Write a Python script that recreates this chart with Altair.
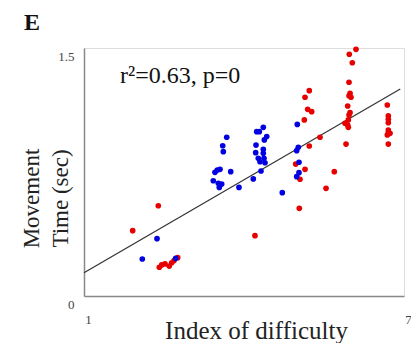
import altair as alt
import pandas as pd

# Red group (index of difficulty, movement time)
red_x = [2.393, 1.913, 2.412, 2.457, 2.519, 2.599, 2.644, 2.688, 2.757, 4.206,
         6.100, 5.974, 6.031, 5.969, 5.988, 5.969, 6.006, 5.944, 5.988, 5.969,
         5.956, 5.894, 5.944, 5.956, 5.913, 5.224, 5.144, 5.194, 5.269, 5.131,
         5.425, 5.224, 6.687, 6.706, 6.706, 6.706, 6.706, 6.706, 6.687, 6.738,
         6.706, 4.969, 5.144, 5.050, 5.693, 5.538, 5.037]
red_y = [0.546, 0.395, 0.174, 0.188, 0.194, 0.181, 0.201, 0.214, 0.232, 0.365,
         1.492, 1.462, 1.411, 1.293, 1.226, 1.211, 1.202, 1.149, 1.109, 1.095,
         1.065, 1.045, 1.034, 1.020, 0.919, 1.242, 1.202, 1.129, 1.115, 1.065,
         0.960, 0.907, 1.155, 1.089, 1.069, 1.048, 1.004, 0.988, 0.974, 0.984,
         0.919, 0.798, 0.766, 0.706, 0.752, 0.651, 0.530]

# Blue group
blue_x = [2.369, 2.093, 2.719, 3.676, 3.601, 3.612, 3.499, 3.550, 3.456, 3.751,
          3.424, 3.518, 3.582, 3.537, 3.906, 4.174, 4.319, 4.362, 4.238, 4.287,
          4.426, 4.381, 4.225, 4.362, 4.219, 4.362, 4.268, 4.375, 4.300, 4.394,
          4.718, 4.999, 5.018, 4.988, 5.031, 5.031, 4.988]
blue_y = [0.347, 0.224, 0.228, 0.960, 0.909, 0.873, 0.762, 0.766, 0.748, 0.752,
          0.697, 0.682, 0.677, 0.657, 0.657, 0.708, 0.756, 1.020, 0.994, 0.994,
          0.964, 0.944, 0.913, 0.887, 0.867, 0.863, 0.833, 0.833, 0.812, 0.806,
          0.625, 1.038, 0.899, 0.879, 0.809, 0.746, 0.722]

# Regression line end points
fit_x = [1.0, 6.93]
fit_y = [0.141, 1.252]

x_ticks = [1, 7]
y_ticks = [0, 1.5]

pts = pd.DataFrame({
    "id": red_x + blue_x,
    "mt": red_y + blue_y,
    "group": ["red"] * len(red_x) + ["blue"] * len(blue_x),
})
fit = pd.DataFrame({"id": fit_x, "mt": fit_y})

FONT = "Liberation Serif"

xs = alt.Scale(domain=[1, 7], nice=False, zero=False)
ys = alt.Scale(domain=[0, 1.5], nice=False, zero=False)

x_axis = alt.Axis(
    values=x_ticks, format="~g", title="Index of difficulty", grid=False, ticks=False,
    domainColor="#888888", domainWidth=1.5,
    labelFont=FONT, labelFontSize=13, labelColor="#444444",
    labelPadding=17, labelOffset=4, labelFlush=False, labelOverlap=False,
    titleFont=FONT, titleFontSize=25, titleFontWeight="normal", titleColor="#222222",
    titleX=172, titleY=42, titleBaseline="alphabetic",
)
y_axis = alt.Axis(
    values=y_ticks, format="~g", title=["Movement", "Time (sec)"], grid=False, ticks=False,
    domainColor="#888888", domainWidth=1.5,
    labelFont=FONT, labelFontSize=13, labelColor="#444444",
    labelPadding=10, labelOffset=8, labelFlush=False, labelOverlap=False,
    titleFont=FONT, titleFontSize=23, titleFontWeight="normal", titleColor="#222222",
    titleX=-46, titleY=150, titleBaseline="alphabetic", titleLineHeight=29,
    titleAngle=270,
)

points = alt.Chart(pts).mark_circle(size=32, opacity=1).encode(
    x=alt.X("id:Q", scale=xs, axis=x_axis),
    y=alt.Y("mt:Q", scale=ys, axis=y_axis),
    color=alt.Color("group:N", scale=alt.Scale(domain=["red", "blue"],
                                               range=["#e60000", "#0000e0"]),
                    legend=None),
)

line = alt.Chart(fit).mark_line(color="#333333", strokeWidth=1.2).encode(
    x=alt.X("id:Q", scale=xs),
    y=alt.Y("mt:Q", scale=ys),
)

notes = pd.DataFrame({"t": ["r\u00b2=0.63, p=0"]})
stat = alt.Chart(notes).mark_text(
    font=FONT, fontSize=24, align="left", baseline="alphabetic", color="#111111"
).encode(text="t:N", x=alt.value(36), y=alt.value(35))

panel = pd.DataFrame({"t": ["E"]})
letter = alt.Chart(panel).mark_text(
    font=FONT, fontSize=24, fontWeight="bold", align="center", baseline="middle",
    color="#111111"
).encode(text="t:N", x=alt.value(-52), y=alt.value(-25))

chart = alt.layer(line, points, stat, letter).properties(
    width=320, height=248,
    autosize=alt.AutoSizeParams(type="none"),
    padding={"left": 76, "top": 40, "right": 7, "bottom": 47},
).configure_view(stroke=None).configure(background="white")

chart.save("out.html", embed_options={"renderer": "svg", "actions": False})
